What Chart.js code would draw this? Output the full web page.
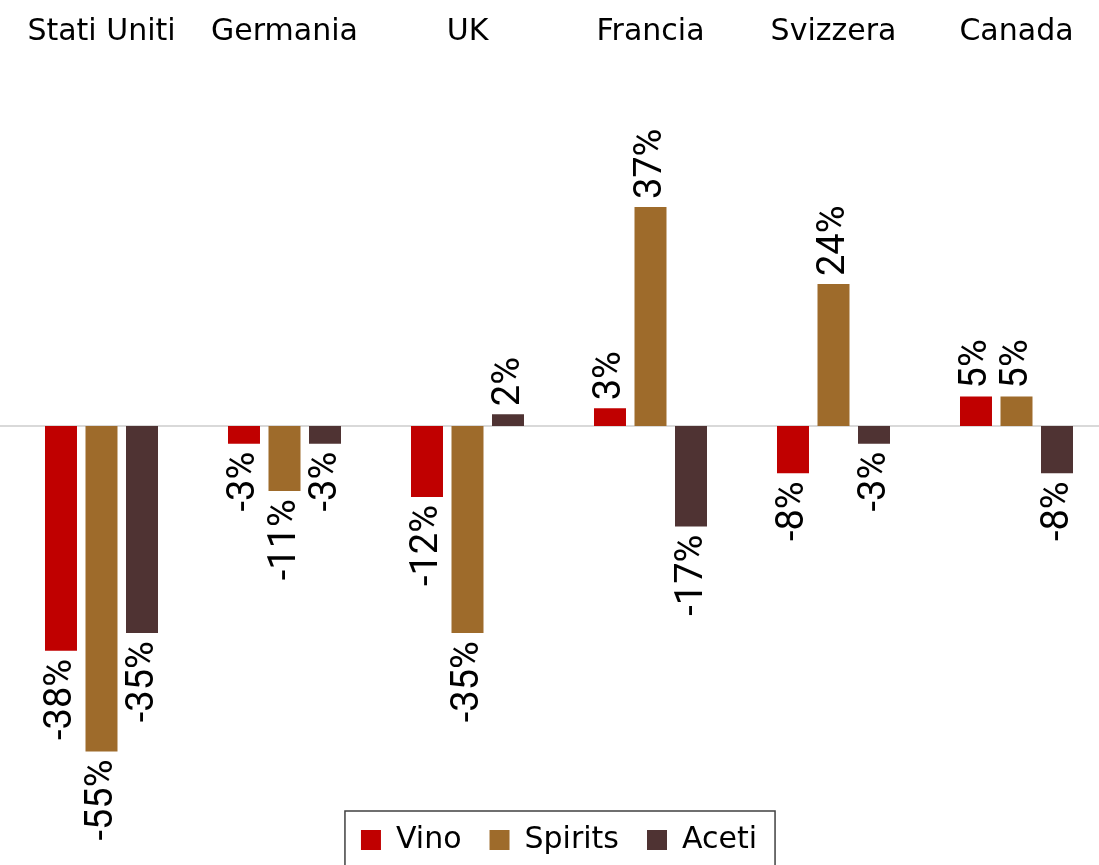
<!DOCTYPE html>
<html>
<head>
<meta charset="utf-8">
<script src="https://cdn.jsdelivr.net/npm/chart.js@4"></script>
<style>
  html, body { margin: 0; padding: 0; background: #fff; overflow: hidden; }
  #wrap { width: 1108px; height: 865px; position: relative; }
</style>
</head>
<body>
<div id="wrap"><canvas id="chart"></canvas></div>
<script>
const countries = ["Stati Uniti", "Germania", "UK", "Francia", "Svizzera", "Canada"];
const vino = [-38, -3, -12, 3, -8, 5];
const spirits = [-55, -11, -35, 37, 24, 5];
const aceti = [-35, -3, 2, -17, -3, -8];

const seriesNames = ["Vino", "Spirits", "Aceti"];
const seriesColors = ["#C00000", "#9E6B2B", "#4F3333"];

// zero line across the whole width
const zeroLine = {
  id: "zeroLine",
  beforeDatasetsDraw(chart) {
    const ctx = chart.ctx;
    const y = chart.scales.y.getPixelForValue(0);
    ctx.save();
    ctx.strokeStyle = "#D9D9D9";
    ctx.lineWidth = 2;
    ctx.beginPath();
    ctx.moveTo(0, y);
    ctx.lineTo(chart.width, y);
    ctx.stroke();
    ctx.restore();
  },
};

// rotated value labels at the end of each bar
const valueLabels = {
  id: "valueLabels",
  afterDatasetsDraw(chart) {
    const ctx = chart.ctx;
    ctx.save();
    ctx.font = "38px Roboto";
    ctx.fillStyle = "#000";
    ctx.textBaseline = "middle";
    chart.data.datasets.forEach((ds, i) => {
      const meta = chart.getDatasetMeta(i);
      meta.data.forEach((bar, j) => {
        const v = ds.data[j];
        const txt = v + "%";
        ctx.save();
        if (v >= 0) {
          ctx.translate(bar.x, bar.y - 8);
          ctx.rotate(-Math.PI / 2);
          ctx.textAlign = "left";
        } else {
          ctx.translate(bar.x, bar.y + 8);
          ctx.rotate(-Math.PI / 2);
          ctx.textAlign = "right";
        }
        ctx.fillText(txt, 0, 1);
        ctx.restore();
      });
    });
    ctx.restore();
  },
};

// frame round the legend
const legendBox = {
  id: "legendBox",
  afterDraw(chart) {
    const boxes = chart.legend.legendHitBoxes;
    if (!boxes || !boxes.length) return;
    const left = Math.min(...boxes.map((b) => b.left)) - 16;
    const right = Math.max(...boxes.map((b) => b.left + b.width)) + 18;
    const top = boxes[0].top - 14;
    const ctx = chart.ctx;
    ctx.save();
    ctx.strokeStyle = "#404040";
    ctx.lineWidth = 1.5;
    ctx.strokeRect(left, top, right - left, chart.height - top + 2);
    ctx.restore();
  },
};

new Chart(document.getElementById("chart"), {
  type: "bar",
  data: {
    labels: countries,
    datasets: [vino, spirits, aceti].map((d, i) => ({
      label: seriesNames[i],
      data: d,
      backgroundColor: seriesColors[i],
      borderWidth: 0,
      categoryPercentage: 0.664,
      barPercentage: 0.79,
    })),
  },
  options: {
    responsive: true,
    maintainAspectRatio: false,
    animation: false,
    layout: { padding: { left: 10, top: 6, right: 0, bottom: 0 } },
    scales: {
      x: {
        position: "top",
        grid: { display: false, drawTicks: false },
        border: { display: false },
        ticks: {
          color: "#000",
          font: { family: "DejaVu Sans", size: 30 },
          padding: 8,
          maxRotation: 0,
          autoSkip: false,
        },
      },
      y: {
        display: false,
        min: -62.7,
        max: 62.2,
      },
    },
    plugins: {
      legend: {
        position: "bottom",
        labels: {
          color: "#000",
          font: { family: "DejaVu Sans", size: 30 },
          boxWidth: 20,
          boxHeight: 20,
          padding: 28,
        },
      },
      tooltip: { enabled: false },
    },
  },
  plugins: [zeroLine, valueLabels, legendBox],
});
</script>
</body>
</html>
